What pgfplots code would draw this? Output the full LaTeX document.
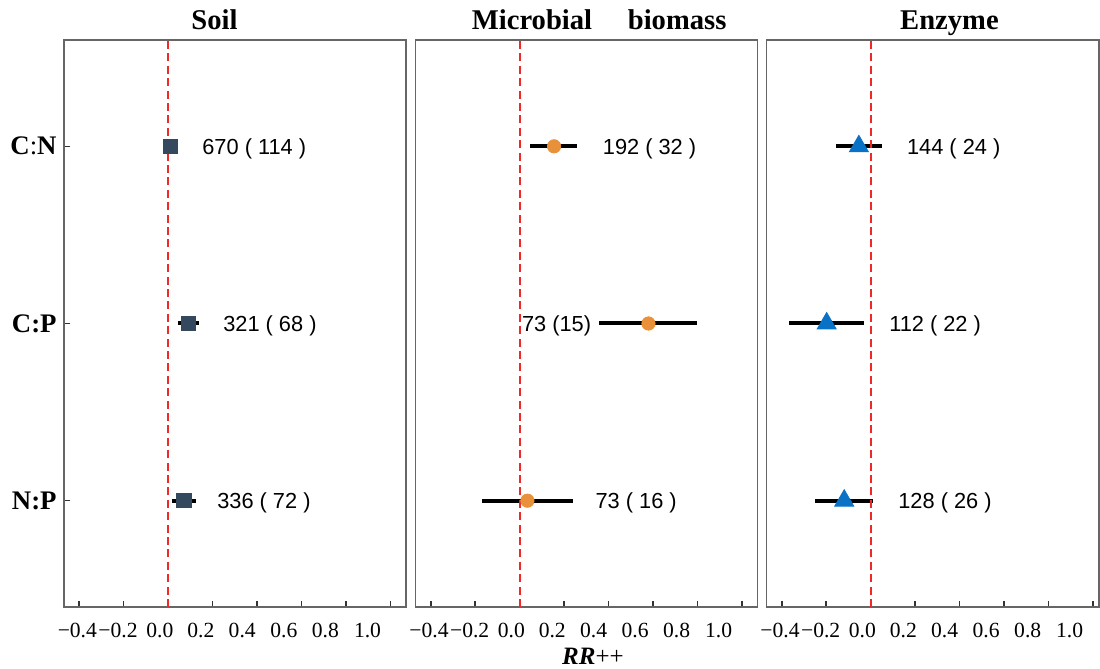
\documentclass[border=0pt]{standalone}
\usepackage{pgfplots}
\pgfplotsset{compat=1.18}
\usepackage{pgfplotstable}
\usepackage{fontspec}
\setmainfont{Liberation Serif}
\newfontfamily\arial{Liberation Sans}
\definecolor{sq}{HTML}{34495E}
\definecolor{orng}{HTML}{E8913A}
\definecolor{tri}{HTML}{0A72C6}
\definecolor{framegray}{HTML}{666666}
\definecolor{tickgray}{HTML}{333333}
\definecolor{redline}{HTML}{F02828}

% columns: y (1=N:P, 2=C:P, 3=C:N), mean, lower, upper
\pgfplotstableread{
y x lo hi
3 0.010 0.000 0.020
2 0.091 0.044 0.138
1 0.071 0.017 0.125
}\soil
\pgfplotstableread{
y x lo hi
3 0.155 0.047 0.260
2 0.580 0.359 0.798
1 0.035 -0.171 0.242
}\micro
\pgfplotstableread{
y x lo hi
3 -0.053 -0.158 0.052
2 -0.198 -0.367 -0.029
1 -0.119 -0.250 0.012
}\enzyme

\tikzset{lbl/.style={font=\arial\fontsize{10.9}{13}\selectfont, anchor=base west, inner sep=0pt, yshift=-3.9pt}}

\pgfplotsset{
  panel/.style={
    scale only axis, height=283.5pt, anchor=south west,
    ymin=0.4, ymax=3.6, xmin=-0.468,
    axis line style={draw=framegray, line width=0.75pt},
    xtick={-0.4,-0.2,0,0.2,0.4,0.6,0.8,1.0},
    xticklabels={},
    extra x ticks={-0.408,-0.225,-0.037,0.147,0.333,0.520,0.707,0.896},
    extra x tick labels={−0.4,−0.2,0.0,0.2,0.4,0.6,0.8,1.0},
    extra x tick style={tick style={draw=none}, major tick length=0pt},
    tick align=inside, major tick length=3pt,
    xtick pos=bottom, ytick pos=left,
    tick style={draw=tickgray, line width=0.75pt},
    xticklabel style={font=\rmfamily\fontsize{10.8}{12}\selectfont, inner sep=0pt, anchor=north, yshift=-7.8pt},
    title style={font=\fontsize{14.3}{16}\selectfont\bfseries, anchor=base, inner sep=0pt, yshift=-0.5pt},
    clip=false,
  },
  ebar/.style={only marks, mark=none, forget plot,
    error bars/.cd, x dir=both, x explicit, error mark=none,
    error bar style={draw=black, line width=2pt, solid}},
  zline/.style={draw=redline, line width=1pt, dash pattern=on 4pt off 2.2pt, forget plot},
}

\begin{document}
\begin{tikzpicture}
\useasboundingbox (-32pt,-31pt) rectangle (518pt,303.5pt);

% Soil
\begin{axis}[panel, at={(0pt,0pt)}, width=171pt, xmax=1.069,
  title={Soil}, title style={at={(0.44,1)}},
  ytick={1,2,3}, yticklabels={N:P, C:P, C{\mdseries:}N},
  yticklabel style={font=\fontsize{13.4}{15}\selectfont\bfseries, anchor=east, inner sep=0pt, xshift=-3.5pt}]
\addplot[ebar] table[x=x, y=y, x error plus expr=\thisrow{hi}-\thisrow{x}, x error minus expr=\thisrow{x}-\thisrow{lo}] {\soil};
\addplot[zline] coordinates {(0,0.4) (0,3.6)};
\addplot[only marks, mark=square*, mark size=3.6pt, mark options={fill=sq, draw=sq}] table[x=x, y=y] {\soil};
\node[lbl] at (axis cs:0.152,3) {670 ( 114 )};
\node[lbl] at (axis cs:0.246,2) {321 ( 68 )};
\node[lbl] at (axis cs:0.219,1) {336 ( 72 )};
\end{axis}

% Microbial biomass
\begin{axis}[panel, at={(175.85pt,0pt)}, width=170.8pt, xmax=1.070,
  title={Microbial\quad\ biomass}, title style={at={(0.537,1)}},
  ytick=\empty]
\addplot[ebar] table[x=x, y=y, x error plus expr=\thisrow{hi}-\thisrow{x}, x error minus expr=\thisrow{x}-\thisrow{lo}] {\micro};
\addplot[zline] coordinates {(0,0.4) (0,3.6)};
\addplot[only marks, mark=*, mark size=3.33pt, mark options={fill=orng, draw=orng}] table[x=x, y=y] {\micro};
\node[lbl] at (axis cs:0.373,3) {192 ( 32 )};
\node[lbl] at (axis cs:0.009,2) {73 (15)};
\node[lbl] at (axis cs:0.340,1) {73 ( 16 )};
\end{axis}

% Enzyme
\begin{axis}[panel, at={(351.35pt,0pt)}, width=166.15pt, xmax=1.028,
  title={Enzyme}, title style={at={(0.55,1)}},
  ytick=\empty]
\addplot[ebar] table[x=x, y=y, x error plus expr=\thisrow{hi}-\thisrow{x}, x error minus expr=\thisrow{x}-\thisrow{lo}] {\enzyme};
\addplot[zline] coordinates {(0,0.4) (0,3.6)};
\addplot[only marks, mark=triangle*, mark size=5.5pt, mark options={fill=tri, draw=tri}] table[x=x, y=y] {\enzyme};
\node[lbl] at (axis cs:0.162,3) {144 ( 24 )};
\node[lbl] at (axis cs:0.082,2) {112 ( 22 )};
\node[lbl] at (axis cs:0.123,1) {128 ( 26 )};
\end{axis}

\node[anchor=base, inner sep=0pt, font=\fontsize{12.5}{14}\selectfont] at (264.5pt,-29pt) {\textbf{\textit{RR}}++};
\end{tikzpicture}
\end{document}
